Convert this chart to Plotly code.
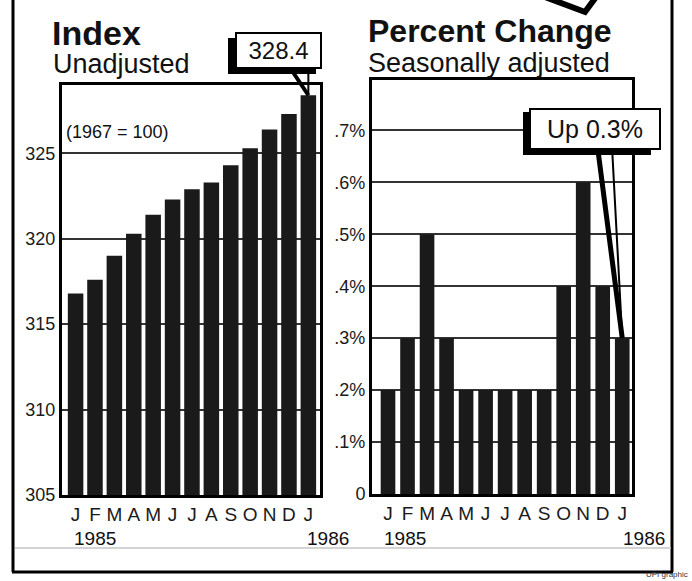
import plotly.graph_objects as go

W, H = 692, 581

months = ["J", "F", "M", "A", "M", "J", "J", "A", "S", "O", "N", "D", "J"]
index_vals = [316.8, 317.6, 319.0, 320.3, 321.4, 322.3, 322.9, 323.3, 324.3, 325.3, 326.4, 327.3, 328.4]
pct_vals = [0.2, 0.3, 0.5, 0.3, 0.2, 0.2, 0.2, 0.2, 0.2, 0.4, 0.6, 0.4, 0.3]
index_ticks = [305, 310, 315, 320, 325]
pct_ticks = [0, 0.1, 0.2, 0.3, 0.4, 0.5, 0.6, 0.7]
pct_ticktext = ["0", ".1%", ".2%", ".3%", ".4%", ".5%", ".6%", ".7%"]

def px(x, y):
    return x / W, 1 - y / H

BAR = "#1a1a1a"
FONT = "Liberation Sans, Arial, sans-serif"

xs = list(range(len(months)))
fig = go.Figure()
fig.add_trace(go.Bar(x=xs, y=index_vals, marker=dict(color=BAR, line=dict(width=0)),
                     width=0.8, xaxis="x", yaxis="y", hoverinfo="skip"))
fig.add_trace(go.Bar(x=xs, y=pct_vals, marker=dict(color=BAR, line=dict(width=0)),
                     width=0.75, xaxis="x2", yaxis="y2", hoverinfo="skip"))

axis_common = dict(showline=True, mirror=True, linecolor="black", linewidth=3, ticks="",
                   automargin=False, fixedrange=True)
xfont = dict(family=FONT, size=19, color="#1a1a1a")
yfont = dict(family=FONT, size=18, color="#1a1a1a")

fig.update_layout(
    template="none",
    width=W, height=H, margin=dict(l=0, r=0, t=0, b=0, pad=0, autoexpand=False),
    paper_bgcolor="white", plot_bgcolor="white", showlegend=False,
    xaxis=dict(domain=[62 / W, 320 / W], range=[-0.7, 12.6], tickmode="array", tickvals=xs,
               ticktext=months, showgrid=False, zeroline=False, anchor="y", tickfont=xfont,
               **axis_common),
    yaxis=dict(domain=[1 - 495 / H, 1 - 85 / H], range=[305, 329], tickmode="array",
               tickvals=index_ticks, showgrid=True, gridcolor="#333", gridwidth=1.5,
               zeroline=False, anchor="x", tickfont=yfont, **axis_common),
    xaxis2=dict(domain=[372 / W, 632 / W], range=[-0.82, 12.5], tickmode="array", tickvals=xs,
                ticktext=months, showgrid=False, zeroline=False, anchor="y2", tickfont=xfont,
                **axis_common),
    yaxis2=dict(domain=[1 - 494 / H, 1 - 80 / H], range=[0, 0.797], tickmode="array",
                tickvals=pct_ticks, ticktext=pct_ticktext, showgrid=True, gridcolor="#333",
                gridwidth=1.5, zeroline=False, anchor="x2", tickfont=yfont, **axis_common),
)

shapes = []
def line(x0, y0, x1, y1, w=2.5, color="black"):
    a, b = px(x0, y0)
    c, d = px(x1, y1)
    shapes.append(dict(type="line", xref="paper", yref="paper", x0=a, y0=b, x1=c, y1=d,
                       line=dict(color=color, width=w)))
def rect(x0, y0, x1, y1, color="black"):
    a, b = px(x0, y0)
    c, d = px(x1, y1)
    shapes.append(dict(type="rect", xref="paper", yref="paper", x0=a, y0=b, x1=c, y1=d,
                       fillcolor=color, line=dict(width=0), layer="above"))

# outer border
line(13, 0, 13, 572, 3)
line(12, 572, 673, 572, 3)
line(672, 0, 672, 572, 3)
line(15, 548, 671, 548, 1.5, "#c4c4c4")
# fragment of artwork at top
a1 = px(545, -3); a2 = px(585, 12); a3 = px(596, -3)
shapes.append(dict(type="path", xref="paper", yref="paper",
                   path=f"M {a1[0]},{a1[1]} L {a2[0]},{a2[1]} L {a3[0]},{a3[1]}",
                   line=dict(color="black", width=6)))
# callout shadows
rect(228, 38, 316, 74)
rect(523, 112, 651, 155)
fig.update_layout(shapes=shapes)

ann = []
def text(x, y, s, size, xanchor="left", yanchor="middle", bold=False, color="#111"):
    a, b = px(x, y)
    ann.append(dict(xref="paper", yref="paper", x=a, y=b, text=f"<b>{s}</b>" if bold else s,
                    showarrow=False, xanchor=xanchor, yanchor=yanchor,
                    font=dict(family=FONT, size=size, color=color)))

text(50, 33, "Index", 34, bold=True)
text(51, 64, "Unadjusted", 27)
text(366, 31, "Percent Change", 32, bold=True)
text(366, 63, "Seasonally adjusted", 27)
text(64, 132, "(1967 = 100)", 18)
text(72, 538, "1985", 19)
text(351, 538, "1986", 19, xanchor="right")
text(382, 538, "1985", 19)
text(667, 538, "1986", 19, xanchor="right")
text(690, 581, "UPI graphic", 8, xanchor="right", yanchor="bottom", color="#333")

# callouts tied to the last bar of each panel
ann.append(dict(xref="x", yref="y", x=xs[-1], y=index_vals[-1], ax=-30, ay=-45,
                text=f"{index_vals[-1]:.1f}", showarrow=True, arrowhead=0, arrowwidth=4,
                arrowcolor="black", standoff=0, bgcolor="white", bordercolor="black",
                borderwidth=2, borderpad=1, width=81, height=31,
                font=dict(family=FONT, size=24, color="#111")))
ann.append(dict(xref="x", yref="y", x=xs[-1], y=index_vals[-1], ax=0, ay=-27, text=" ",
                showarrow=True, arrowhead=0, arrowwidth=2, arrowcolor="black", standoff=0,
                font=dict(size=1)))
ann.append(dict(xref="x2", yref="y2", x=xs[-1], y=pct_vals[-1], ax=-27, ay=-209,
                text=f"Up {pct_vals[-1]:.1f}%", showarrow=True, arrowhead=0, arrowwidth=5,
                arrowcolor="black", standoff=0, bgcolor="white", bordercolor="black",
                borderwidth=2, borderpad=1, width=126, height=36,
                font=dict(family=FONT, size=25, color="#111")))
ann.append(dict(xref="x2", yref="y2", x=xs[-1], y=pct_vals[-1], ax=-10, ay=-187, text=" ",
                showarrow=True, arrowhead=0, arrowwidth=2, arrowcolor="black", standoff=0,
                font=dict(size=1)))
fig.update_layout(annotations=ann)

fig.write_html("out.html")
